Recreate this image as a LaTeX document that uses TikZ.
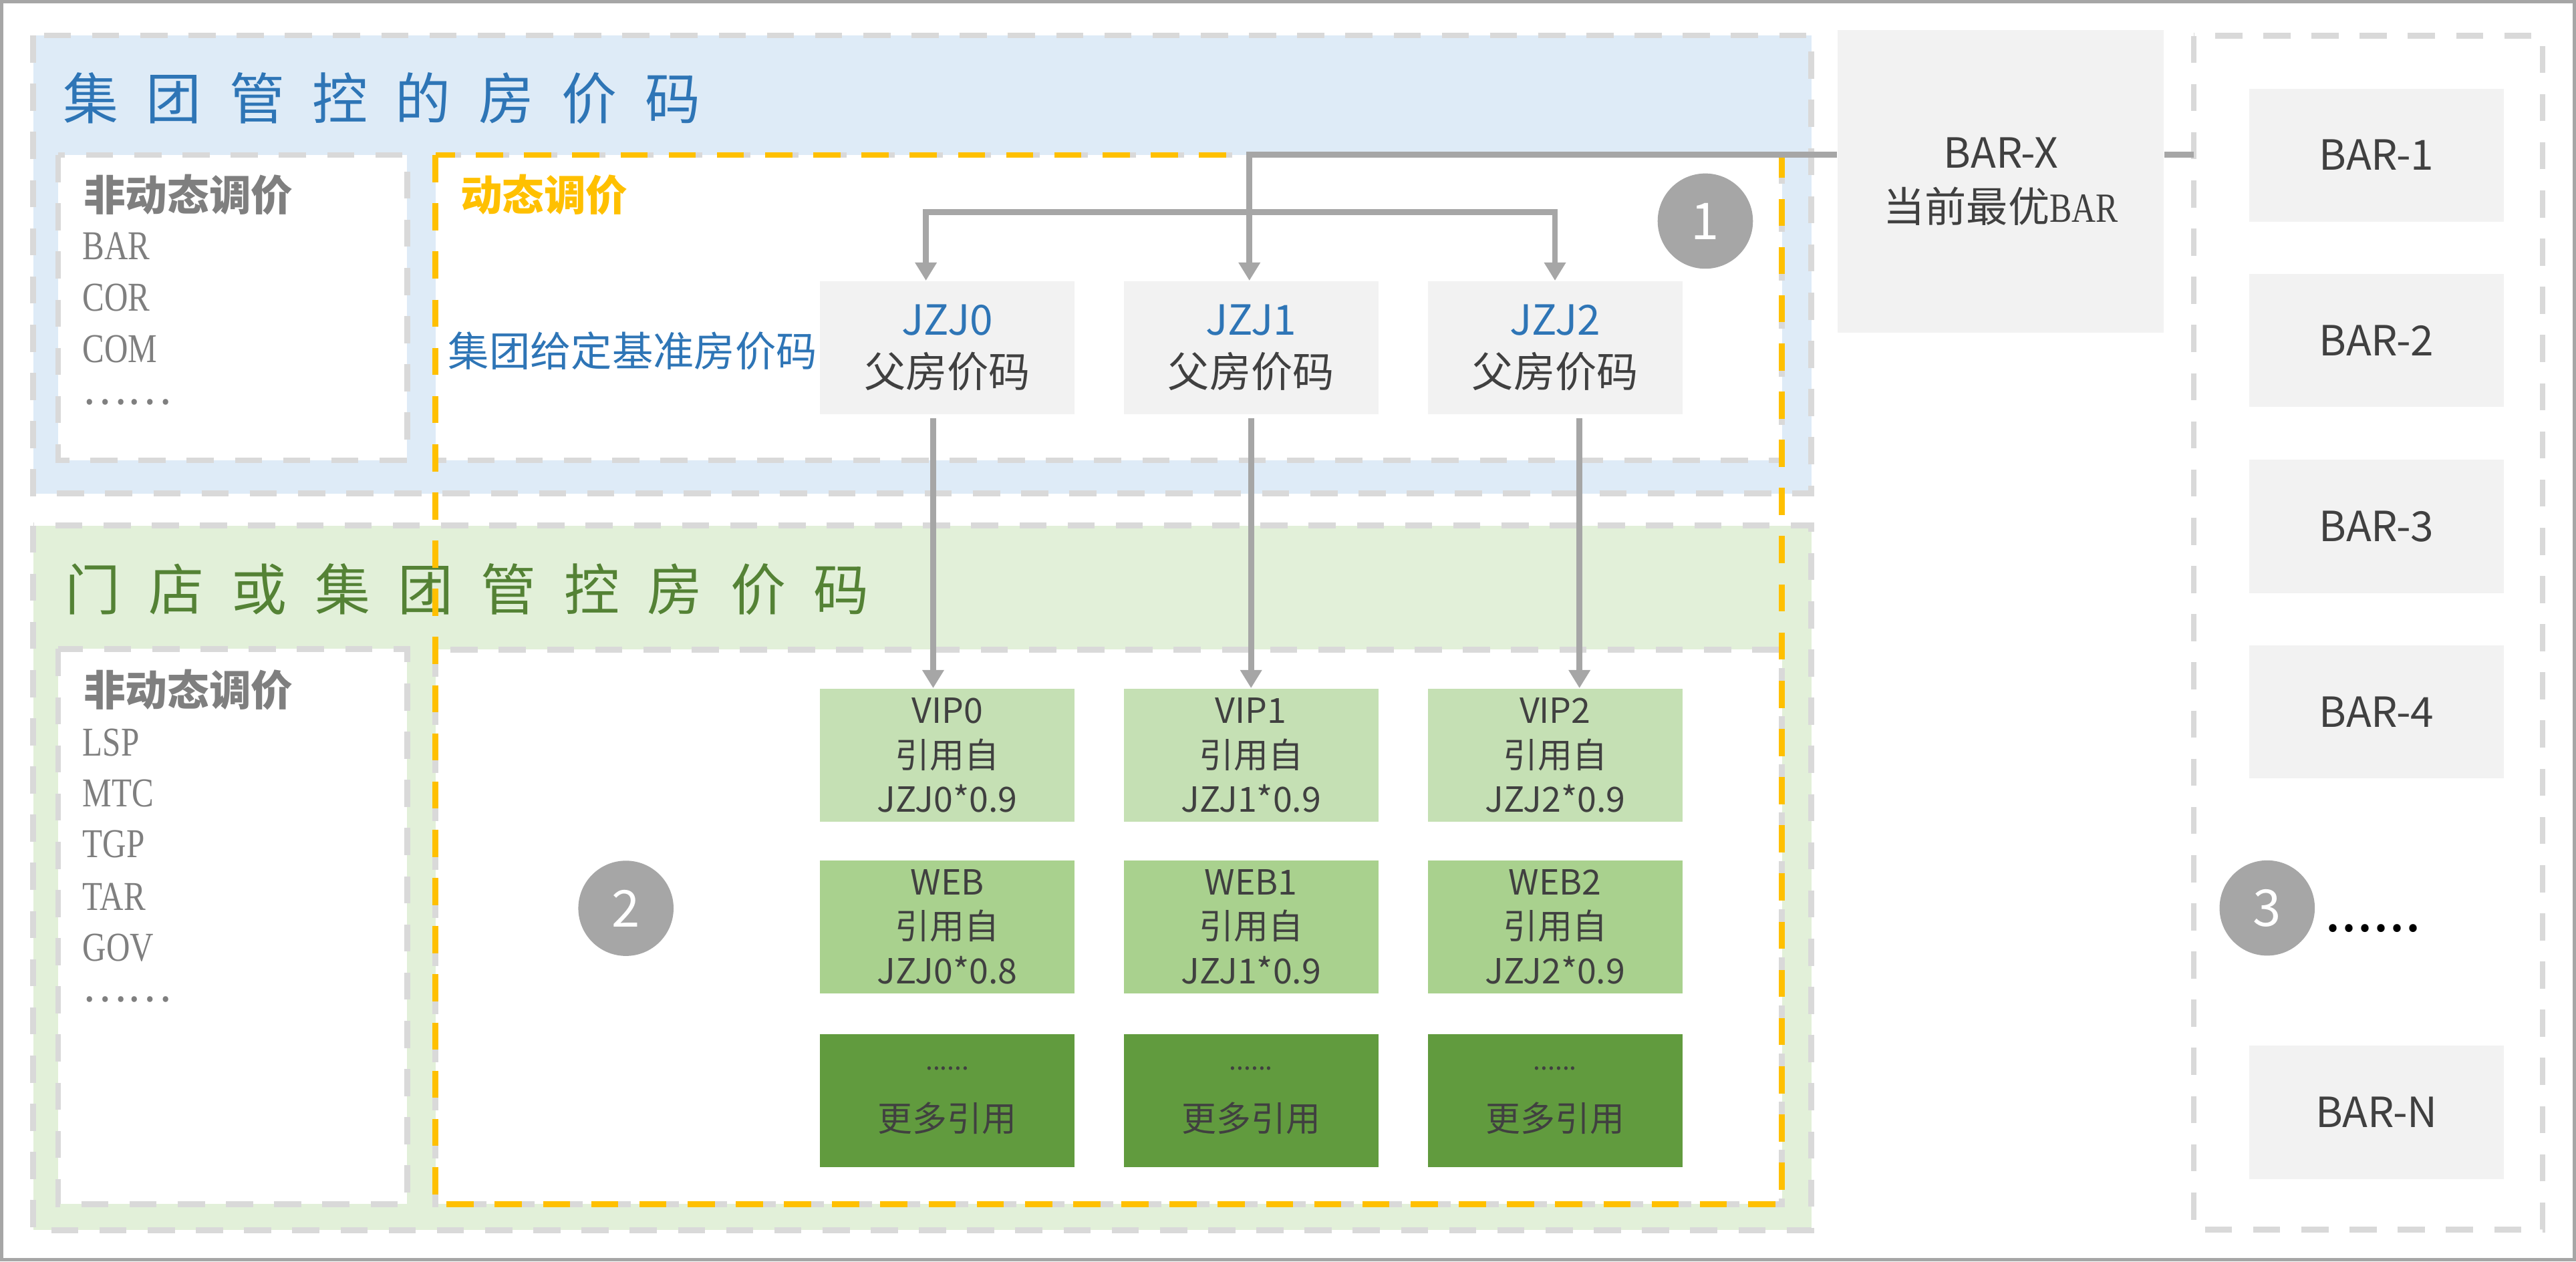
\documentclass[tikz,border=0pt]{standalone}
\usepackage{fontspec}
\setmainfont{Noto Sans CJK SC}
\newfontfamily\songlatin{Liberation Serif}[FakeStretch=0.8]
\usetikzlibrary{arrows.meta,calc}

\definecolor{bluefill}{HTML}{DEEBF7}
\definecolor{greenfill}{HTML}{E2F0D9}
\definecolor{dashgray}{HTML}{D9D9D9}
\definecolor{linegray}{HTML}{A6A6A6}
\definecolor{boxgray}{HTML}{F2F2F2}
\definecolor{titleblue}{HTML}{2E75B6}
\definecolor{titlegreen}{HTML}{548235}
\definecolor{dynyellow}{HTML}{FFC000}
\definecolor{textgray}{HTML}{7F7F7F}
\definecolor{textdark}{HTML}{404040}
\definecolor{vipgreen}{HTML}{C5E0B4}
\definecolor{webgreen}{HTML}{A9D18E}
\definecolor{moregreen}{HTML}{619B3E}

\newcommand\titlegap{\hspace{9.6pt}}

\begin{document}
\begin{tikzpicture}[x=0.02cm,y=-0.02cm,
  zone/.style={draw=dashgray,line width=2pt,dash pattern=on 9.4pt off 7.3pt},
  dynzone/.style={draw=dynyellow,line width=2pt,dash pattern=on 9.4pt off 7.3pt},
  titletext/.style={anchor=west,inner sep=0pt,font=\fontsize{19.2}{23}\selectfont},
  listhead/.style={anchor=west,inner sep=0pt,text=textgray,font=\fontsize{14.5}{17}\selectfont\bfseries},
  listitem/.style={anchor=west,inner sep=0pt,text=textgray,font=\fontsize{14.2}{17}\selectfont\songlatin},
  pricebox/.style={minimum width=3.1cm,minimum height=1.62cm,inner sep=0pt,align=center,text=textdark,font=\fontsize{14.4}{17.9}\selectfont},
  barbox/.style={pricebox,fill=boxgray},
  refbox/.style={pricebox,font=\fontsize{12}{15.4}\selectfont},
  numdot/.style={circle,fill=linegray,minimum size=1.16cm,inner sep=0pt,text=white,font=\fontsize{17.6}{20}\selectfont},
  link/.style={draw=linegray,line width=2pt},
  linkarrow/.style={link,-{Triangle[length=6.3pt,width=7.2pt]}}]
\useasboundingbox (0,0) rectangle (1568,768);
\draw[linegray,line width=1.2pt](1,1) rectangle (1567,767);

\draw[zone,fill=bluefill](20.2,21.6) rectangle (1102.5,300.5);
\draw[zone,fill=greenfill](20.2,319.9) rectangle (1102.5,749);
\draw[zone,fill=white](35.4,94.4) rectangle (247.8,280.2);
\draw[zone,fill=white](265,94.4) rectangle (1084.6,280.2);
\draw[zone,fill=white](35.4,395.1) rectangle (247.8,733.1);
\draw[zone,fill=white](265,395.5) rectangle (1084.6,733.1);
\draw[zone](1335.3,21.8) rectangle (1547.6,748.5);

\node[titletext,text=titleblue](grouptitle) at (38,60){集\titlegap 团\titlegap 管\titlegap 控\titlegap 的\titlegap 房\titlegap 价\titlegap 码};
\node[titletext,text=titlegreen](storetitle) at (39.5,359){门\titlegap 店\titlegap 或\titlegap 集\titlegap 团\titlegap 管\titlegap 控\titlegap 房\titlegap 价\titlegap 码};
\draw[dynzone](265,94.4) rectangle (1084.6,733.1);

\node[listhead](statichead) at (50.6,118.5){非动态调价};
\node[listitem](bar) at (50,150){BAR};
\node[listitem](cor) at (50,181){COR};
\node[listitem](com) at (50,212.5){COM};
\node[listhead,font=\fontsize{14.5}{17}\selectfont](groupmore) at (50,245){……};

\node[listhead](storehead) at (50.6,420){非动态调价};
\node[listitem](lsp) at (50,452){LSP};
\node[listitem](mtc) at (50,483){MTC};
\node[listitem](tgp) at (50,514){TGP};
\node[listitem](tar) at (50,546){TAR};
\node[listitem](gov) at (50,577){GOV};
\node[listhead,font=\fontsize{14.5}{17}\selectfont](storemore) at (50,608.5){……};

\node[anchor=west,inner sep=0pt,text=dynyellow,font=\fontsize{14.5}{17}\selectfont\bfseries](dynhead) at (279.9,118.5){动态调价};
\node[anchor=west,inner sep=0pt,text=titleblue,font=\fontsize{14.2}{17}\selectfont](basehead) at (272.5,213.5){集团给定基准房价码};

\node[barbox](jzj0) at (576.6,211.7){\textcolor{titleblue}{JZJ0}\\父房价码};
\node[barbox](jzj1) at (761.5,211.7){\textcolor{titleblue}{JZJ1}\\父房价码};
\node[barbox](jzj2) at (946.6,211.7){\textcolor{titleblue}{JZJ2}\\父房价码};

\node[refbox,fill=vipgreen](vip0) at (576.6,459.8){VIP0\\引用自\\JZJ0*0.9};
\node[refbox,fill=vipgreen](vip1) at (761.5,459.8){VIP1\\引用自\\JZJ1*0.9};
\node[refbox,fill=vipgreen](vip2) at (946.6,459.8){VIP2\\引用自\\JZJ2*0.9};
\node[refbox,fill=webgreen](web0) at (576.6,564.2){WEB\\引用自\\JZJ0*0.8};
\node[refbox,fill=webgreen](web1) at (761.5,564.2){WEB1\\引用自\\JZJ1*0.9};
\node[refbox,fill=webgreen](web2) at (946.6,564.2){WEB2\\引用自\\JZJ2*0.9};
\node[refbox,fill=moregreen](more0) at (576.6,670){{\fontsize{9}{10}\selectfont ......}\\[6pt]更多引用};
\node[refbox,fill=moregreen](more1) at (761.5,670){{\fontsize{9}{10}\selectfont ......}\\[6pt]更多引用};
\node[refbox,fill=moregreen](more2) at (946.6,670){{\fontsize{9}{10}\selectfont ......}\\[6pt]更多引用};

\node[barbox,minimum width=3.97cm,minimum height=3.69cm,font=\fontsize{14.4}{18.8}\selectfont](barx) at (1217.8,110.5){BAR-X\\当前最优{\songlatin BAR}};
\node[barbox](bar1) at (1446.5,94.4){BAR-1};
\node[barbox](bar2) at (1446.5,207.3){BAR-2};
\node[barbox](bar3) at (1446.5,320.5){BAR-3};
\node[barbox](bar4) at (1446.5,433.4){BAR-4};
\node[barbox](barn) at (1446.5,677.2){BAR-N};

\node[numdot](one) at (1038,134.6){1};
\node[numdot](two) at (381,553){2};
\node[numdot](three) at (1380,552.8){3};
\node[anchor=base west,inner sep=0pt,font=\fontsize{20}{24}\selectfont](bardots) at (1415,567){......};

\coordinate (busin) at (760.5,94.1);
\coordinate (busout) at (1335.3,94.1);
\coordinate (forkl) at (563.6,129.1);
\coordinate (forkr) at (946.5,129.1);
\draw[linkarrow](barx.west |- busin)--(busin)--(busin |- jzj1.north);
\draw[link](barx.east |- busout)--(busout);
\draw[link,{Triangle[length=6.3pt,width=7.2pt]}-{Triangle[length=6.3pt,width=7.2pt]}](forkl |- jzj0.north)--(forkl)--(forkr)--(forkr |- jzj2.north);
\draw[linkarrow]($(jzj0.south)+(-8.6,2)$)--($(vip0.north)+(-8.6,0)$);
\draw[linkarrow]($(jzj1.south)+(0,2)$)--(vip1.north);
\draw[linkarrow]($(jzj2.south)+(14.8,2)$)--($(vip2.north)+(14.8,0)$);
\end{tikzpicture}
\end{document}
